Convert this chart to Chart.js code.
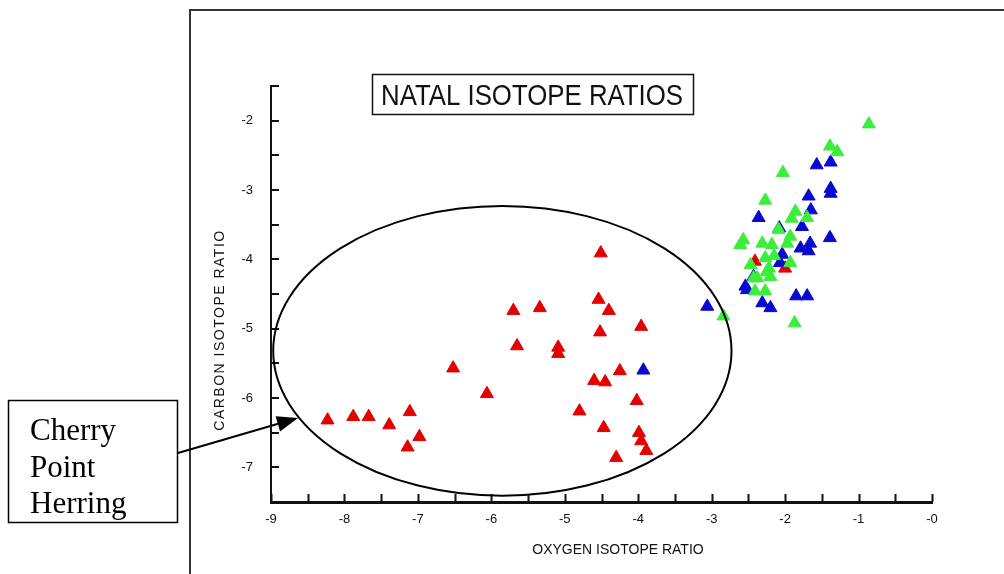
<!DOCTYPE html>
<html>
<head>
<meta charset="utf-8">
<title>Natal isotope ratios</title>
<script src="https://cdn.jsdelivr.net/npm/chart.js@4.4.1/dist/chart.umd.min.js"></script>
<style>
  body { margin: 0; background: #fff; }
  #wrap { width: 1004px; height: 574px; }
</style>
</head>
<body>
<div id="wrap"><canvas id="isoChart" width="1004" height="574"></canvas></div>
<script>
// values: oxygen ratio on x, carbon ratio on y
const redOxygen = [-4.51, -4.54, -4.40, -3.96, -5.70, -5.34, -4.52, -5.65, -5.09, -5.09,
  -6.52, -4.25, -4.60, -4.45, -6.06, -4.02, -4.80, -4.47, -3.99, -3.96,
  -3.89, -4.30, -8.23, -7.88, -7.67, -7.39, -7.11, -6.98, -7.14, -2.41, -2.00];
const redCarbon = [-3.91, -4.58, -4.74, -4.97, -4.74, -4.70, -5.05, -5.25, -5.27, -5.36,
  -5.57, -5.61, -5.75, -5.77, -5.94, -6.04, -6.19, -6.43, -6.50, -6.62,
  -6.76, -6.86, -6.32, -6.27, -6.27, -6.39, -6.20, -6.56, -6.71, -4.03, -4.13];

const blueOxygen = [-3.93, -1.57, -1.38, -1.68, -1.38, -1.38, -1.65, -2.36, -1.77, -1.39,
  -1.66, -1.79, -1.68, -2.04, -2.07, -2.54, -2.52, -1.85, -1.70, -2.31,
  -2.20, -3.06, -2.43, -2.08];
const blueCarbon = [-5.60, -2.64, -2.60, -3.09, -3.05, -2.98, -3.29, -3.40, -3.53, -3.69,
  -3.77, -3.84, -3.88, -3.93, -4.05, -4.39, -4.44, -4.53, -4.53, -4.63,
  -4.70, -4.68, -4.25, -3.55];

const greenOxygen = [-0.86, -1.39, -1.29, -2.03, -2.27, -1.86, -1.91, -1.70, -2.09, -1.93,
  -2.57, -2.61, -2.31, -2.18, -1.97, -2.27, -1.93, -2.47, -2.22, -2.20,
  -2.38, -2.43, -2.41, -2.27, -2.84, -1.87, -2.25, -2.15];
const greenCarbon = [-2.05, -2.37, -2.45, -2.75, -3.15, -3.31, -3.41, -3.40, -3.57, -3.67,
  -3.72, -3.79, -3.77, -3.79, -3.77, -3.98, -4.05, -4.08, -4.13, -4.25,
  -4.27, -4.27, -4.46, -4.46, -4.82, -4.92, -4.18, -3.95];

const xTickValues = [-9, -8, -7, -6, -5, -4, -3, -2, -1, 0];
const xTickLabels = ['-9', '-8', '-7', '-6', '-5', '-4', '-3', '-2', '-1', '-0'];
const yTickValues = [-7, -6, -5, -4, -3, -2];
const yTickLabels = ['-7', '-6', '-5', '-4', '-3', '-2'];

// circled group (data units)
const herringCircle = { x: -5.85, y: -5.32, rx: 3.12, ry: 2.09 };

const RED = '#e30000';
const BLUE = '#0808d0';
const GREEN = '#3cee3c';
const INK = '#111';

function toPoints(xs, ys) {
  return xs.map((x, i) => ({ x: x, y: ys[i] }));
}

// small inward tick marks every 0.5 on both axes
const innerTicks = {
  id: 'innerTicks',
  afterDraw(chart) {
    const { ctx, scales: { x, y } } = chart;
    ctx.save();
    ctx.strokeStyle = INK;
    ctx.lineWidth = 2;
    ctx.beginPath();
    for (let v = x.min; v <= x.max + 0.001; v += 0.5) {
      const px = Math.round(x.getPixelForValue(v)) + 0.5;
      ctx.moveTo(px, y.bottom);
      ctx.lineTo(px, y.bottom - 8);
    }
    for (let v = y.min; v <= y.max + 0.001; v += 0.5) {
      const py = Math.round(y.getPixelForValue(v));
      ctx.moveTo(x.left, py);
      ctx.lineTo(x.left + 8, py);
    }
    ctx.stroke();
    ctx.restore();
  }
};

// frame, title box, axis titles, ellipse and the callout
const annotations = {
  id: 'annotations',
  afterDraw(chart) {
    const { ctx, scales: { x, y } } = chart;
    ctx.save();

    ctx.strokeStyle = '#333';
    ctx.lineWidth = 2;
    ctx.strokeRect(190, 10, 1000, 1000);

    // title box
    ctx.strokeStyle = INK;
    ctx.lineWidth = 1.5;
    ctx.strokeRect(372.5, 74.5, 321, 40);
    ctx.fillStyle = INK;
    ctx.font = '29px "Liberation Sans", Arial, sans-serif';
    ctx.textAlign = 'center';
    ctx.textBaseline = 'alphabetic';
    ctx.fillText('NATAL ISOTOPE RATIOS', 532, 105, 302);

    // axis titles
    ctx.font = '14px "Liberation Sans", Arial, sans-serif';
    ctx.textBaseline = 'middle';
    ctx.fillText('OXYGEN ISOTOPE RATIO', 618, 550);
    ctx.save();
    ctx.translate(220, 330);
    ctx.rotate(-Math.PI / 2);
    ctx.letterSpacing = '1.5px';
    ctx.fillText('CARBON ISOTOPE RATIO', 0, 0);
    ctx.restore();

    // ellipse round the Cherry Point group
    const cx = x.getPixelForValue(herringCircle.x);
    const cy = y.getPixelForValue(herringCircle.y);
    const rx = x.getPixelForValue(herringCircle.x + herringCircle.rx) - cx;
    const ry = cy - y.getPixelForValue(herringCircle.y + herringCircle.ry);
    ctx.strokeStyle = '#000';
    ctx.lineWidth = 2;
    ctx.beginPath();
    ctx.ellipse(cx, cy, rx, ry, 0, 0, Math.PI * 2);
    ctx.stroke();

    // callout box
    ctx.lineWidth = 1.5;
    ctx.strokeRect(8.5, 400.5, 169, 122);
    ctx.fillStyle = '#000';
    ctx.font = '31px "Liberation Serif", "Times New Roman", serif';
    ctx.textAlign = 'left';
    ctx.textBaseline = 'alphabetic';
    ctx.fillText('Cherry', 30, 440);
    ctx.fillText('Point', 30, 477);
    ctx.fillText('Herring', 30, 513);

    // arrow
    const sx = 178, sy = 453, tx = 298, ty = 418;
    const ang = Math.atan2(ty - sy, tx - sx);
    ctx.lineWidth = 2;
    ctx.beginPath();
    ctx.moveTo(sx, sy);
    ctx.lineTo(tx - 18 * Math.cos(ang), ty - 18 * Math.sin(ang));
    ctx.stroke();
    ctx.beginPath();
    ctx.moveTo(tx, ty);
    ctx.lineTo(tx - 21 * Math.cos(ang) + 8 * Math.sin(ang), ty - 21 * Math.sin(ang) - 8 * Math.cos(ang));
    ctx.lineTo(tx - 21 * Math.cos(ang) - 8 * Math.sin(ang), ty - 21 * Math.sin(ang) + 8 * Math.cos(ang));
    ctx.closePath();
    ctx.fill();

    ctx.restore();
  }
};

document.addEventListener('DOMContentLoaded', () => {
  const tickFont = { family: '"Liberation Sans", Arial, sans-serif', size: 13 };

  const marker = (color, order) => ({
    backgroundColor: color,
    borderColor: color,
    borderWidth: 1,
    pointStyle: 'triangle',
    pointRadius: 7.5,
    pointHoverRadius: 7.5,
    order: order
  });

  new Chart(document.getElementById('isoChart'), {
    type: 'scatter',
    data: {
      datasets: [
        { label: 'Green', data: toPoints(greenOxygen, greenCarbon), ...marker(GREEN, 0) },
        { label: 'Blue', data: toPoints(blueOxygen, blueCarbon), ...marker(BLUE, 1) },
        { label: 'Red', data: toPoints(redOxygen, redCarbon), ...marker(RED, 2) }
      ]
    },
    options: {
      responsive: false,
      animation: false,
      layout: { padding: { left: 190, top: 86, right: 72, bottom: 0 } },
      plugins: {
        legend: { display: false },
        tooltip: { enabled: false }
      },
      scales: {
        x: {
          type: 'linear',
          min: -9,
          max: 0,
          afterFit: (s) => { s.height = 72; },
          afterBuildTicks: (s) => { s.ticks = xTickValues.map(v => ({ value: v })); },
          ticks: {
            callback: (v, i) => xTickLabels[i],
            font: tickFont,
            color: INK,
            padding: 10,
            autoSkip: false,
            maxRotation: 0
          },
          grid: { drawOnChartArea: false, drawTicks: false },
          border: { display: true, color: INK, width: 3 }
        },
        y: {
          type: 'linear',
          min: -7.5,
          max: -1.5,
          afterFit: (s) => { s.width = 81; },
          afterBuildTicks: (s) => { s.ticks = yTickValues.map(v => ({ value: v })); },
          ticks: {
            callback: (v, i) => yTickLabels[i],
            font: tickFont,
            color: INK,
            padding: 18,
            autoSkip: false
          },
          grid: { drawOnChartArea: false, drawTicks: false },
          border: { display: true, color: INK, width: 2 }
        }
      }
    },
    plugins: [innerTicks, annotations]
  });
});
</script>
</body>
</html>
